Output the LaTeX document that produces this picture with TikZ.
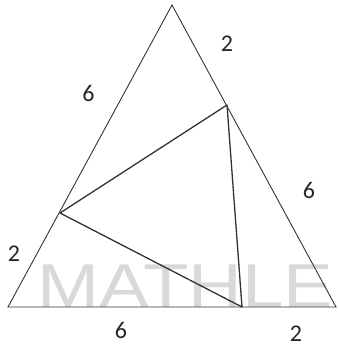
\documentclass[tikz,border=0pt]{standalone}
\usepackage{fontspec}
\setmainfont{Carlito}
\newfontfamily\wmfont{Liberation Sans}
\begin{document}
\begin{tikzpicture}[x=1pt,y=-1pt,
  outer/.style={draw=black!80,line width=0.9pt},
  inner/.style={draw=black!80,line width=1.3pt,line join=round},
  lbl/.style={font=\fontsize{24}{24}\selectfont,text=black!85,inner sep=0pt},
  wm/.style={font=\wmfont\fontsize{62}{62}\selectfont,text=black!15,inner sep=0pt}]
\useasboundingbox (0,0) rectangle (337,347);
\node[wm,anchor=base west,xscale=1.2] (w) at (37,307) {MATHLE};
\coordinate (T) at (172,5);
\coordinate (BL) at (8,307);
\coordinate (BR) at (336,307);
\coordinate (P) at (60,213);
\coordinate (Q) at (227,105);
\coordinate (R) at (242,307);
\draw[outer] (T) -- (BL) -- (BR) -- cycle;
\draw[inner] (P) -- (Q) -- (R) -- cycle;
\node[lbl] (l1) at (88.5,93) {6};
\node[lbl] (l2) at (227,44) {2};
\node[lbl] (l3) at (309,190) {6};
\node[lbl] (l4) at (14,254) {2};
\node[lbl] (l5) at (121,330) {6};
\node[lbl] (l6) at (296,334) {2};
\end{tikzpicture}
\end{document}
